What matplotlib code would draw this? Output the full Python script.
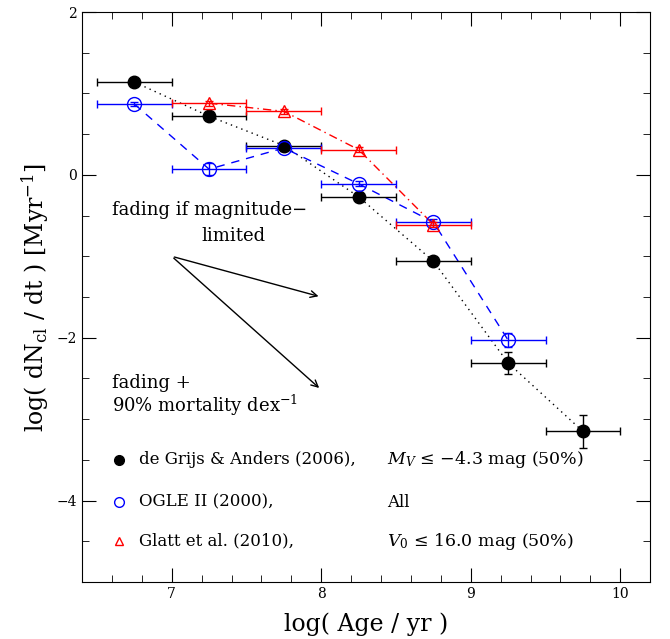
import matplotlib
matplotlib.use("Agg")
import matplotlib.pyplot as plt
from matplotlib.ticker import MultipleLocator

plt.rcParams['font.family'] = ['DejaVu Serif']
plt.rcParams['mathtext.fontset'] = 'dejavuserif'

# de Grijs & Anders (2006)
age_dga = [6.75, 7.25, 7.75, 8.25, 8.75, 9.25, 9.75]
rate_dga = [1.14, 0.72, 0.36, -0.27, -1.06, -2.31, -3.15]
err_dga = [0.03, 0.03, 0.03, 0.03, 0.03, 0.13, 0.20]

# OGLE II (2000)
age_ogle = [6.75, 7.25, 7.75, 8.25, 8.75, 9.25]
rate_ogle = [0.87, 0.07, 0.33, -0.11, -0.58, -2.03]
err_ogle = [0.03, 0.07, 0.04, 0.03, 0.04, 0.09]

# Glatt et al. (2010)
age_glatt = [7.25, 7.75, 8.25, 8.75]
rate_glatt = [0.88, 0.78, 0.31, -0.61]
err_glatt = [0.03, 0.03, 0.03, 0.03]

bin_half = 0.25

fig = plt.figure(figsize=(6.7, 6.39), dpi=100)
ax = fig.add_axes([0.1224, 0.0892, 0.848, 0.892])

# datos con barras de error
ax.errorbar(age_dga, rate_dga, xerr=bin_half, yerr=err_dga, fmt='o', color='black',
            ms=9, elinewidth=1, capsize=3, zorder=3)
ax.plot(age_dga, rate_dga, ls=(0, (1, 3)), color='black', lw=1, zorder=2)

ax.errorbar(age_ogle, rate_ogle, xerr=bin_half, yerr=err_ogle, fmt='o', mfc='none',
            mec='blue', color='blue', ms=10, elinewidth=1, capsize=3, zorder=3)
ax.plot(age_ogle, rate_ogle, ls=(0, (6, 5)), color='blue', lw=1, zorder=2)

ax.errorbar(age_glatt, rate_glatt, xerr=bin_half, yerr=err_glatt, fmt='^', mfc='none',
            mec='red', color='red', ms=8, elinewidth=1, capsize=3, zorder=3)
ax.plot(age_glatt, rate_glatt, ls=(0, (6, 3, 1, 3)), color='red', lw=1, zorder=2)

# flechas de fading
ax.text(6.6, -0.43, "fading if magnitude\u2212", fontsize=13, va='center')
ax.text(7.2, -0.75, "limited", fontsize=13, va='center')
ax.annotate("", xy=(8.0, -1.5), xytext=(7.0, -1.0),
            arrowprops=dict(arrowstyle='->', lw=1, color='black', mutation_scale=12))
ax.annotate("", xy=(8.0, -2.64), xytext=(7.0, -1.0),
            arrowprops=dict(arrowstyle='->', lw=1, color='black', mutation_scale=12))
ax.text(6.6, -2.56, "fading +", fontsize=13, va='center')
ax.text(6.6, -2.83, "90% mortality dex$^{-1}$", fontsize=13, va='center')

# leyenda manual
ax.plot([6.65], [-3.5], 'o', color='black', ms=7)
ax.plot([6.65], [-4.02], 'o', mfc='none', mec='blue', ms=7)
ax.plot([6.65], [-4.5], '^', mfc='none', mec='red', ms=6)
ax.text(6.78, -3.5, "de Grijs & Anders (2006),", fontsize=12, va='center')
ax.text(8.44, -3.5, "$M_V$ \u2264 \u22124.3 mag (50%)", fontsize=12.5, va='center')
ax.text(6.78, -4.02, "OGLE II (2000),", fontsize=12, va='center')
ax.text(8.44, -4.02, "All", fontsize=12, va='center')
ax.text(6.78, -4.5, "Glatt et al. (2010),", fontsize=12, va='center')
ax.text(8.44, -4.5, "$V_0$ \u2264 16.0 mag (50%)", fontsize=12.5, va='center')

ax.set_xlim(6.4, 10.2)
ax.set_ylim(-5, 2)
ax.xaxis.set_major_locator(MultipleLocator(1))
ax.xaxis.set_minor_locator(MultipleLocator(0.2))
ax.yaxis.set_major_locator(MultipleLocator(2))
ax.yaxis.set_minor_locator(MultipleLocator(0.5))
ax.tick_params(which='both', direction='in', top=True, right=True, labelsize=10)
ax.tick_params(which='major', length=10)
ax.tick_params(which='minor', length=5)

ax.set_xlabel("log( Age / yr )", fontsize=17, labelpad=8)
ax.set_ylabel("log( dN$_{\\rm cl}$ / dt ) [Myr$^{-1}$]", fontsize=17)

fig.savefig("out.png", dpi=100)
